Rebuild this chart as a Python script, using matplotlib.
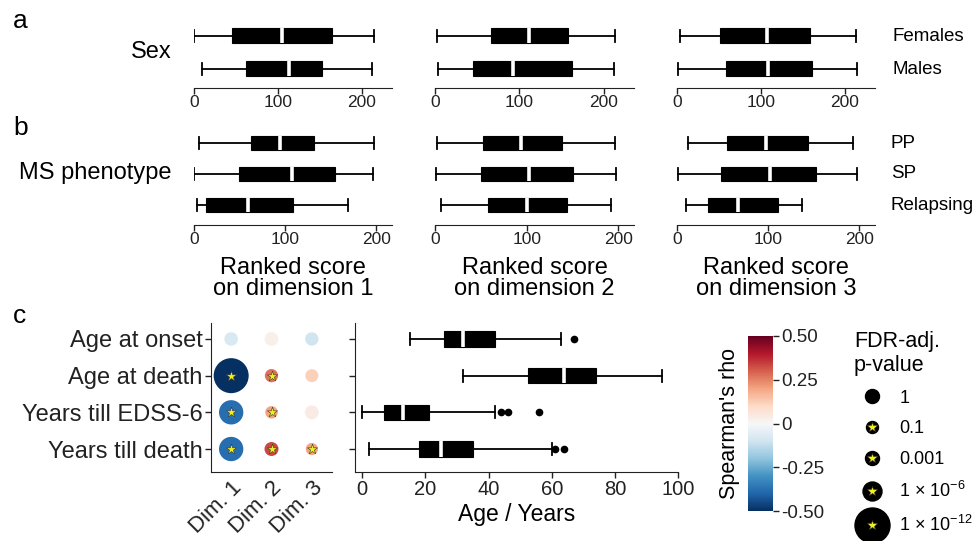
import numpy as np
import matplotlib
matplotlib.use("Agg")
import matplotlib.pyplot as plt
from matplotlib.lines import Line2D
from matplotlib.legend_handler import HandlerTuple
from matplotlib import colors, cm

plt.rcParams['font.family'] = ['Liberation Sans', 'DejaVu Sans']
plt.rcParams['mathtext.fontset'] = 'custom'
plt.rcParams['mathtext.rm'] = 'Liberation Sans'
plt.rcParams['mathtext.it'] = 'Liberation Sans:italic'
plt.rcParams['mathtext.bf'] = 'Liberation Sans:bold'
plt.rcParams['axes.edgecolor'] = '#222222'
plt.rcParams['xtick.color'] = '#222222'
plt.rcParams['ytick.color'] = '#222222'

# ---- data (box stats: whisker low, Q1, median, Q3, whisker high) ----
sex_groups = ["Females", "Males"]
sex_dim1 = [[0, 45, 104.5, 165, 214], [9.5, 62, 113.5, 153, 212.5]]
sex_dim2 = [[2, 67, 111.5, 158, 214], [3, 45, 92.5, 162.5, 212]]
sex_dim3 = [[3, 51.5, 107, 158, 213], [1, 58, 109, 161.5, 214]]

pheno_groups = ["PP", "SP", "Relapsing"]
pheno_dim1 = [[5.5, 63, 94, 132, 197], [0, 49, 107, 154, 196], [3, 13.5, 59, 109, 169]]
pheno_dim2 = [[2, 52, 93.5, 139, 196], [1, 50, 103, 151, 197], [7, 58, 100, 143.5, 191.5]]
pheno_dim3 = [[12, 55, 98, 143.5, 193], [1, 48, 101.5, 152.5, 197], [10, 34.5, 67, 111, 137.5]]

outcomes = ["Age at onset", "Age at death", "Years till EDSS-6", "Years till death"]
age_stats = [[15, 26, 32, 42, 63], [32, 52.5, 64, 74, 95], [0, 7, 13, 21, 42], [2, 18, 25, 35, 60]]
age_fliers = [[67], [], [44, 46, 56], [61, 64]]

dims = ["Dim. 1", "Dim. 2", "Dim. 3"]
rho = [[-0.08, 0.03, -0.10],
       [-0.50, 0.27, 0.12],
       [-0.38, 0.20, 0.04],
       [-0.38, 0.33, 0.20]]
pval = [[0.6, 0.8, 0.5],
        [1e-12, 0.005, 0.3],
        [1e-8, 0.03, 0.8],
        [1e-8, 0.001, 0.08]]

legend_p = [1, 0.1, 0.001, 1e-6, 1e-12]
legend_labels = ["1", "0.1", "0.001", "1 × 10$^{-6}$", "1 × 10$^{-12}$"]
size_logp = [0, 1, 3, 6, 12]        # -log10(p)
size_px = [14, 12, 14, 19, 35]      # dot diameter in pixels


def diam_pt(p):
    return np.interp(-np.log10(p), size_logp, size_px) * 0.72


W, H = 978, 541


def rect(l, t, r, b):
    return [l / W, 1 - b / H, (r - l) / W, (b - t) / H]


def to_stats(rows, fliers=None):
    out = []
    for i, r in enumerate(rows):
        out.append(dict(whislo=r[0], q1=r[1], med=r[2], q3=r[3], whishi=r[4],
                        fliers=fliers[i] if fliers else []))
    return out


def draw_box(ax, rows, width, fliers=None):
    ax.bxp(to_stats(rows, fliers), positions=np.arange(len(rows)),
           orientation='horizontal', widths=width, capwidths=width * 0.8,
           patch_artist=True, showfliers=True,
           boxprops=dict(facecolor='black', edgecolor='black', linewidth=0.8),
           medianprops=dict(color='white', linewidth=2.6),
           whiskerprops=dict(color='black', linewidth=1.3),
           capprops=dict(color='black', linewidth=1.3),
           flierprops=dict(marker='o', markerfacecolor='black',
                           markeredgecolor='black', markersize=4.5))


fig = plt.figure(figsize=(9.78, 5.41), dpi=100)

cols_x = [(194, 392), (435, 634), (677, 875)]

# ---- panel a ----
for (l, r), d in zip(cols_x, [sex_dim1, sex_dim2, sex_dim3]):
    ax = fig.add_axes(rect(l, 16.7, r, 88))
    draw_box(ax, d, 0.45)
    ax.set_xlim(0, 236)
    ax.set_ylim(1.58, -0.58)
    ax.set_yticks([])
    for s in ['top', 'right', 'left']:
        ax.spines[s].set_visible(False)
    ax.set_xticks([0, 100, 200])
    ax.tick_params(axis='x', labelsize=12.5, length=4, width=1, pad=1)

# ---- panel b ----
for k, ((l, r), d) in enumerate(zip(cols_x, [pheno_dim1, pheno_dim2, pheno_dim3])):
    ax = fig.add_axes(rect(l, 124.4, r, 225))
    draw_box(ax, d, 0.47)
    ax.set_xlim(0, 217)
    ax.set_ylim(2.645, -0.6)
    ax.set_yticks([])
    for s in ['top', 'right', 'left']:
        ax.spines[s].set_visible(False)
    ax.set_xticks([0, 100, 200])
    ax.tick_params(axis='x', labelsize=12.5, length=4, width=1, pad=1)
    ax.set_xlabel(f"Ranked score\non dimension {k + 1}", fontsize=17,
                  linespacing=0.95, labelpad=7)

# group labels
fig.text(172 / W, 1 - 52.5 / H, "Sex", fontsize=17, ha='right', va='center')
fig.text(172 / W, 1 - 173 / H, "MS phenotype", fontsize=17, ha='right', va='center')
for name, y in zip(sex_groups, [36.5, 69]):
    fig.text(893 / W, 1 - y / H, name, fontsize=13.5, ha='left', va='center')
for name, y in zip(pheno_groups, [143, 173.5, 205]):
    fig.text(891 / W, 1 - y / H, name, fontsize=13.5, ha='left', va='center')

for lab, y in zip("abc", [28, 135, 323]):
    fig.text(13 / W, 1 - y / H, lab, fontsize=19, ha='left', va='baseline')

# ---- panel c: dot plot ----
norm = colors.Normalize(vmin=-0.5, vmax=0.5)
cmap = plt.get_cmap('RdBu_r')
axd = fig.add_axes(rect(211, 323, 332, 472))
rho_a = np.array(rho)
p_a = np.array(pval)
yy, xx = np.meshgrid(np.arange(len(outcomes)), np.arange(1, len(dims) + 1), indexing='ij')
axd.scatter(xx.ravel(), yy.ravel(), s=diam_pt(p_a.ravel()) ** 2,
            c=rho_a.ravel(), cmap=cmap, norm=norm, linewidths=0, zorder=2)
sig = p_a.ravel() <= 0.1
axd.scatter(xx.ravel()[sig], yy.ravel()[sig], s=60, marker='*',
            facecolor='#f2ef1f', edgecolor='#333333', linewidths=0.4, zorder=3)
axd.set_xlim(0.5, 3.5)
axd.set_ylim(3.627, -0.436)
axd.set_yticks(range(len(outcomes)))
axd.set_yticklabels(outcomes, fontsize=17)
axd.set_xticks([1, 2, 3])
axd.set_xticklabels(dims, fontsize=16, rotation=45, ha='right', va='top',
                    rotation_mode='anchor')
axd.tick_params(axis='y', length=4, width=1, pad=2)
axd.tick_params(axis='x', length=0, pad=4)
for s in ['top', 'right']:
    axd.spines[s].set_visible(False)

# ---- panel c: age boxplot ----
axb = fig.add_axes(rect(355, 323, 678, 472))
draw_box(axb, age_stats, 0.41, fliers=age_fliers)
axb.set_xlim(-2.3, 100)
axb.set_ylim(3.627, -0.436)
axb.set_yticks(range(len(outcomes)))
axb.set_yticklabels([])
axb.set_xticks(np.arange(0, 101, 20))
axb.tick_params(axis='x', labelsize=14.5, length=4, width=1, pad=2)
axb.tick_params(axis='y', length=4, width=1)
axb.set_xlabel("Age / Years", fontsize=16.5, labelpad=3)
for s in ['top', 'right']:
    axb.spines[s].set_visible(False)

# ---- colorbar ----
cax = fig.add_axes(rect(748, 336, 773, 511))
cb = fig.colorbar(cm.ScalarMappable(norm=norm, cmap=cmap), cax=cax)
cb.outline.set_visible(False)
cb.set_ticks([-0.5, -0.25, 0, 0.25, 0.5])
cb.set_ticklabels(["-0.50", "-0.25", "0", "0.25", "0.50"])
cb.ax.tick_params(labelsize=13.5, length=4, width=1, pad=2)
cb.ax.yaxis.set_label_position('left')
cb.set_label("Spearman's rho", fontsize=15.5, labelpad=6)

# ---- size legend ----
handles = []
for p in legend_p:
    dot = Line2D([], [], marker='o', linestyle='', markersize=diam_pt(p),
                 markerfacecolor='black', markeredgecolor='black')
    if p <= 0.1:
        star = Line2D([], [], marker='*', linestyle='', markersize=7.5,
                      markerfacecolor='#f2ef1f', markeredgecolor='#333333',
                      markeredgewidth=0.4)
        handles.append((dot, star))
    else:
        handles.append(dot)
fig.legend(handles, legend_labels, loc='upper left',
           bbox_to_anchor=(854 / W, 1 - 331 / H), frameon=False,
           title="FDR-adj.\np-value", title_fontsize=15.5, fontsize=13,
           alignment='left', handlelength=2, handletextpad=0.5,
           labelspacing=0.75, borderpad=0, borderaxespad=0,
           handler_map={tuple: HandlerTuple(ndivide=1, pad=0)})

fig.savefig("out.png", dpi=100)
